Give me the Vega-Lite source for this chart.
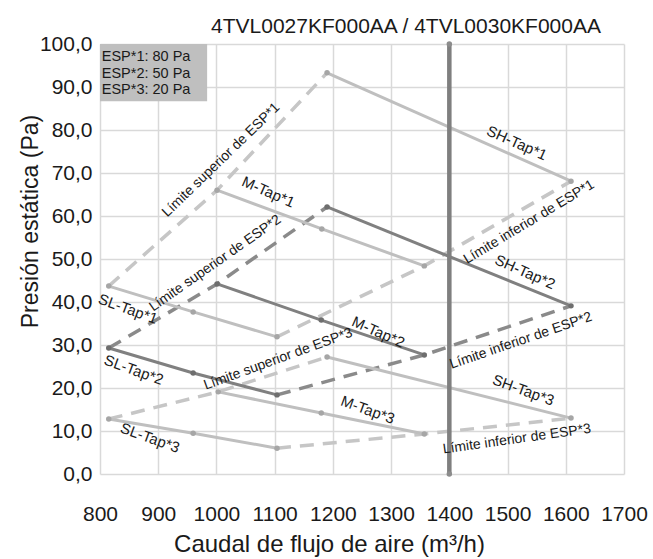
{
  "$schema": "https://vega.github.io/schema/vega-lite/v6.json",
  "width": 524,
  "height": 430,
  "autosize": {"type": "none"},
  "padding": {"left": 100, "top": 44, "right": 29, "bottom": 85},
  "background": "white",
  "title": {
    "text": "4TVL0027KF000AA / 4TVL0030KF000AA",
    "font": "Liberation Sans",
    "fontSize": 21,
    "fontWeight": "normal",
    "color": "#1a1a1a",
    "anchor": "middle",
    "frame": "group",
    "dx": 44,
    "dy": 31,
    "offset": 6,
    "baseline": "bottom"
  },
  "config": {
    "view": {"stroke": null},
    "axis": {
      "grid": true,
      "gridColor": "#d9d9d9",
      "gridWidth": 1.5,
      "domain": false,
      "ticks": false,
      "labelOverlap": false,
      "labelFlush": false,
      "labelFont": "Liberation Sans",
      "labelFontSize": 21,
      "labelColor": "#1a1a1a",
      "titleFont": "Liberation Sans",
      "titleFontSize": 23,
      "titleFontWeight": "normal",
      "titleColor": "#1a1a1a"
    }
  },
  "datasets": {
    "lines": [
      {"series": "SL1", "tone": "light", "style": "solid", "x": 815, "y": 43.7},
      {"series": "SL1", "tone": "light", "style": "solid", "x": 960, "y": 37.7},
      {"series": "SL1", "tone": "light", "style": "solid", "x": 1104, "y": 31.9},
      {"series": "M1", "tone": "light", "style": "solid", "x": 1001, "y": 66.0},
      {"series": "M1", "tone": "light", "style": "solid", "x": 1181, "y": 57.0},
      {"series": "M1", "tone": "light", "style": "solid", "x": 1357, "y": 48.4},
      {"series": "SH1", "tone": "light", "style": "solid", "x": 1190, "y": 93.3},
      {"series": "SH1", "tone": "light", "style": "solid", "x": 1609, "y": 68.1},
      {"series": "SL2", "tone": "dark", "style": "solid", "x": 815, "y": 29.3},
      {"series": "SL2", "tone": "dark", "style": "solid", "x": 960, "y": 23.5},
      {"series": "SL2", "tone": "dark", "style": "solid", "x": 1104, "y": 18.4},
      {"series": "M2", "tone": "dark", "style": "solid", "x": 1001, "y": 44.2},
      {"series": "M2", "tone": "dark", "style": "solid", "x": 1180, "y": 35.8},
      {"series": "M2", "tone": "dark", "style": "solid", "x": 1357, "y": 27.7},
      {"series": "SH2", "tone": "dark", "style": "solid", "x": 1190, "y": 62.1},
      {"series": "SH2", "tone": "dark", "style": "solid", "x": 1609, "y": 39.1},
      {"series": "SL3", "tone": "light", "style": "solid", "x": 815, "y": 12.8},
      {"series": "SL3", "tone": "light", "style": "solid", "x": 960, "y": 9.5},
      {"series": "SL3", "tone": "light", "style": "solid", "x": 1104, "y": 6.0},
      {"series": "M3", "tone": "light", "style": "solid", "x": 1003, "y": 19.1},
      {"series": "M3", "tone": "light", "style": "solid", "x": 1180, "y": 14.2},
      {"series": "M3", "tone": "light", "style": "solid", "x": 1357, "y": 9.3},
      {"series": "SH3", "tone": "light", "style": "solid", "x": 1190, "y": 27.2},
      {"series": "SH3", "tone": "light", "style": "solid", "x": 1609, "y": 13.0},
      {"series": "U1", "tone": "light", "style": "dashed", "x": 815, "y": 43.7},
      {"series": "U1", "tone": "light", "style": "dashed", "x": 1001, "y": 66.0},
      {"series": "U1", "tone": "light", "style": "dashed", "x": 1190, "y": 93.3},
      {"series": "L1", "tone": "light", "style": "dashed", "x": 1104, "y": 31.9},
      {"series": "L1", "tone": "light", "style": "dashed", "x": 1357, "y": 48.4},
      {"series": "L1", "tone": "light", "style": "dashed", "x": 1609, "y": 68.1},
      {"series": "U2", "tone": "dark", "style": "dashed", "x": 815, "y": 29.3},
      {"series": "U2", "tone": "dark", "style": "dashed", "x": 1001, "y": 44.2},
      {"series": "U2", "tone": "dark", "style": "dashed", "x": 1190, "y": 62.1},
      {"series": "L2", "tone": "dark", "style": "dashed", "x": 1104, "y": 18.4},
      {"series": "L2", "tone": "dark", "style": "dashed", "x": 1357, "y": 27.7},
      {"series": "L2", "tone": "dark", "style": "dashed", "x": 1609, "y": 39.1},
      {"series": "U3", "tone": "light", "style": "dashed", "x": 815, "y": 12.8},
      {"series": "U3", "tone": "light", "style": "dashed", "x": 1003, "y": 19.1},
      {"series": "U3", "tone": "light", "style": "dashed", "x": 1190, "y": 27.2},
      {"series": "L3", "tone": "light", "style": "dashed", "x": 1104, "y": 6.0},
      {"series": "L3", "tone": "light", "style": "dashed", "x": 1357, "y": 9.3},
      {"series": "L3", "tone": "light", "style": "dashed", "x": 1609, "y": 13.0}
    ],
    "labels": [
      {"label": "SL-Tap*1", "group": "a", "x": 848, "y": 38.4},
      {"label": "SL-Tap*2", "group": "a", "x": 858, "y": 24.2},
      {"label": "SL-Tap*3", "group": "a", "x": 886, "y": 8.4},
      {"label": "M-Tap*3", "group": "a", "x": 1260, "y": 14.9},
      {"label": "SH-Tap*3", "group": "a", "x": 1527, "y": 19.5},
      {"label": "M-Tap*1", "group": "b", "x": 1089, "y": 65.6},
      {"label": "M-Tap*2", "group": "b", "x": 1278, "y": 33.0},
      {"label": "SH-Tap*1", "group": "b", "x": 1516, "y": 77.0},
      {"label": "SH-Tap*2", "group": "b", "x": 1530, "y": 47.0},
      {"label": "Límite superior de ESP*1", "group": "s1", "x": 1008, "y": 73.0},
      {"label": "Límite superior de ESP*2", "group": "s2", "x": 998, "y": 49.0},
      {"label": "Límite superior de ESP*3", "group": "s3", "x": 1106, "y": 26.7},
      {"label": "Límite inferior de ESP*1", "group": "i1", "x": 1537, "y": 58.6},
      {"label": "Límite inferior de ESP*2", "group": "i2", "x": 1523, "y": 31.0},
      {"label": "Límite inferior de ESP*3", "group": "i3", "x": 1516, "y": 8.1}
    ]
  },
  "encoding": {
    "x": {
      "field": "x",
      "type": "quantitative",
      "scale": {"domain": [800, 1700], "nice": false, "zero": false},
      "axis": {
        "values": [800, 900, 1000, 1100, 1200, 1300, 1400, 1500, 1600, 1700],
        "format": "d",
        "title": "Caudal de flujo de aire (m³/h)",
        "titleFontSize": 24,
        "labelBaseline": "alphabetic",
        "labelPadding": 46,
        "titleX": 229,
        "titleY": 77,
        "titleBaseline": "alphabetic"
      }
    },
    "y": {
      "field": "y",
      "type": "quantitative",
      "scale": {"domain": [0, 100], "nice": false},
      "axis": {
        "values": [0, 10, 20, 30, 40, 50, 60, 70, 80, 90, 100],
        "labelExpr": "replace(format(datum.value, '.1f'), '.', ',')",
        "labelPadding": 8,
        "title": "Presión estática (Pa)",
        "titleX": -58,
        "titleY": 177
      }
    }
  },
  "layer": [
    {
      "data": {"values": [{"x": 800, "x2": 984, "y": 100, "y2": 86.7}]},
      "mark": {"type": "rect", "color": "#bfbfbf"},
      "encoding": {"x2": {"field": "x2"}, "y2": {"field": "y2"}}
    },
    {
      "data": {"values": [
        {"label": "ESP*1: 80 Pa", "x": 803, "y": 97.0},
        {"label": "ESP*2: 50 Pa", "x": 803, "y": 93.1},
        {"label": "ESP*3: 20 Pa", "x": 803, "y": 89.2}
      ]},
      "mark": {"type": "text", "align": "left", "baseline": "middle", "font": "Liberation Sans", "fontSize": 14.5, "color": "#1a1a1a"},
      "encoding": {"text": {"field": "label"}}
    },
    {
      "data": {"name": "lines"},
      "transform": [{"filter": "datum.style == 'dashed'"}],
      "mark": {"type": "line", "strokeWidth": 3.5, "strokeDash": [14, 9]},
      "encoding": {
        "detail": {"field": "series"},
        "color": {"field": "tone", "type": "nominal", "scale": {"domain": ["light", "dark"], "range": ["#c6c6c6", "#8a8a8a"]}, "legend": null}
      }
    },
    {
      "data": {"name": "lines"},
      "transform": [{"filter": "datum.style == 'solid'"}],
      "mark": {"type": "line", "strokeWidth": 3},
      "encoding": {
        "detail": {"field": "series"},
        "color": {"field": "tone", "type": "nominal", "scale": {"domain": ["light", "dark"], "range": ["#bfbfbf", "#808080"]}, "legend": null}
      }
    },
    {
      "data": {"values": [{"x": 1400, "y": 0}, {"x": 1400, "y": 100}]},
      "mark": {"type": "line", "strokeWidth": 4.5, "color": "#7f7f7f"},
      "encoding": {}
    },
    {
      "data": {"values": [{"x": 1400, "y": 0}, {"x": 1400, "y": 100}]},
      "mark": {"type": "point", "filled": true, "size": 30, "color": "#8c8c8c", "opacity": 1},
      "encoding": {}
    },
    {
      "data": {"name": "lines"},
      "transform": [{"filter": "datum.style == 'solid'"}],
      "mark": {"type": "point", "filled": true, "size": 30, "opacity": 1},
      "encoding": {
        "color": {"field": "tone", "type": "nominal", "scale": {"domain": ["light", "dark"], "range": ["#a6a6a6", "#6e6e6e"]}, "legend": null}
      }
    },
    {
      "data": {"name": "labels"},
      "transform": [{"filter": "datum.group == 'a'"}],
      "mark": {"type": "text", "angle": 20, "align": "center", "baseline": "middle", "font": "Liberation Sans", "fontSize": 15, "color": "#1a1a1a"},
      "encoding": {"text": {"field": "label"}}
    },
    {
      "data": {"name": "labels"},
      "transform": [{"filter": "datum.group == 'b'"}],
      "mark": {"type": "text", "angle": 24, "align": "center", "baseline": "middle", "font": "Liberation Sans", "fontSize": 15, "color": "#1a1a1a"},
      "encoding": {"text": {"field": "label"}}
    },
    {
      "data": {"name": "labels"},
      "transform": [{"filter": "datum.group == 's1'"}],
      "mark": {"type": "text", "angle": 316, "align": "center", "baseline": "middle", "font": "Liberation Sans", "fontSize": 14, "color": "#1a1a1a"},
      "encoding": {"text": {"field": "label"}}
    },
    {
      "data": {"name": "labels"},
      "transform": [{"filter": "datum.group == 's2'"}],
      "mark": {"type": "text", "angle": 325, "align": "center", "baseline": "middle", "font": "Liberation Sans", "fontSize": 14, "color": "#1a1a1a"},
      "encoding": {"text": {"field": "label"}}
    },
    {
      "data": {"name": "labels"},
      "transform": [{"filter": "datum.group == 's3'"}],
      "mark": {"type": "text", "angle": 340, "align": "center", "baseline": "middle", "font": "Liberation Sans", "fontSize": 14, "color": "#1a1a1a"},
      "encoding": {"text": {"field": "label"}}
    },
    {
      "data": {"name": "labels"},
      "transform": [{"filter": "datum.group == 'i1'"}],
      "mark": {"type": "text", "angle": 329, "align": "center", "baseline": "middle", "font": "Liberation Sans", "fontSize": 14, "color": "#1a1a1a"},
      "encoding": {"text": {"field": "label"}}
    },
    {
      "data": {"name": "labels"},
      "transform": [{"filter": "datum.group == 'i2'"}],
      "mark": {"type": "text", "angle": 341, "align": "center", "baseline": "middle", "font": "Liberation Sans", "fontSize": 14, "color": "#1a1a1a"},
      "encoding": {"text": {"field": "label"}}
    },
    {
      "data": {"name": "labels"},
      "transform": [{"filter": "datum.group == 'i3'"}],
      "mark": {"type": "text", "angle": 352, "align": "center", "baseline": "middle", "font": "Liberation Sans", "fontSize": 14, "color": "#1a1a1a"},
      "encoding": {"text": {"field": "label"}}
    }
  ],
  "resolve": {"scale": {"color": "independent"}}
}
